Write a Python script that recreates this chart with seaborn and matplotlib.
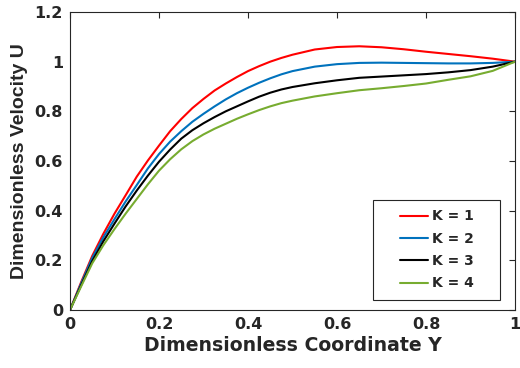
import numpy as np
import pandas as pd
import matplotlib
matplotlib.use("Agg")
import matplotlib.pyplot as plt
from matplotlib.patches import Rectangle
import seaborn as sns

Y = [0.0, 0.025, 0.05, 0.075, 0.1, 0.125, 0.15, 0.175, 0.2, 0.225, 0.25, 0.275,
     0.3, 0.325, 0.35, 0.375, 0.4, 0.425, 0.45, 0.475, 0.5, 0.55, 0.6, 0.65,
     0.7, 0.75, 0.8, 0.85, 0.9, 0.95, 1.0]
U_K1 = [0.0, 0.112, 0.218, 0.307, 0.388, 0.462, 0.537, 0.602, 0.662, 0.72, 0.769, 0.813,
        0.85, 0.884, 0.912, 0.938, 0.962, 0.982, 1.0, 1.015, 1.028, 1.049, 1.059, 1.062,
        1.058, 1.05, 1.04, 1.031, 1.022, 1.012, 1.0]
U_K2 = [0.0, 0.107, 0.21, 0.293, 0.366, 0.437, 0.503, 0.57, 0.628, 0.678, 0.72, 0.758,
        0.79, 0.82, 0.848, 0.873, 0.895, 0.915, 0.933, 0.949, 0.962, 0.98, 0.99, 0.995,
        0.996, 0.995, 0.994, 0.993, 0.993, 0.995, 1.0]
U_K3 = [0.0, 0.1, 0.197, 0.277, 0.348, 0.417, 0.481, 0.541, 0.597, 0.646, 0.69, 0.724,
        0.752, 0.777, 0.8, 0.82, 0.84, 0.859, 0.875, 0.888, 0.898, 0.913, 0.925, 0.935,
        0.94, 0.945, 0.95, 0.957, 0.966, 0.98, 1.0]
U_K4 = [0.0, 0.095, 0.188, 0.261, 0.326, 0.388, 0.447, 0.506, 0.561, 0.607, 0.647, 0.68,
        0.707, 0.73, 0.75, 0.77, 0.788, 0.805, 0.82, 0.833, 0.843, 0.86, 0.873, 0.885,
        0.893, 0.902, 0.912, 0.927, 0.941, 0.963, 1.0]
labels = ["K = 1", "K = 2", "K = 3", "K = 4"]
colors = ["#FF0000", "#0072BD", "#000000", "#77AC30"]

frames = []
for lab, u in zip(labels, [U_K1, U_K2, U_K3, U_K4]):
    frames.append(pd.DataFrame({"Y": Y, "U": u, "K": lab}))
df = pd.concat(frames, ignore_index=True)

sns.set_theme(style="white")
plt.rcParams["font.family"] = ["DejaVu Sans"]
plt.rcParams["font.weight"] = "bold"

DARK = "#262626"
fig = plt.figure(figsize=(5.2, 3.68), dpi=100)
ax = fig.add_axes([70 / 520, 58 / 368, 445 / 520, 298 / 368])
sns.lineplot(data=df, x="Y", y="U", hue="K", palette=colors, linewidth=1.5,
             ax=ax, sort=False)

ax.set_xlim(0, 1)
ax.set_ylim(0, 1.2)
ax.set_xticks([0, 0.2, 0.4, 0.6, 0.8, 1])
ax.set_xticklabels(["0", "0.2", "0.4", "0.6", "0.8", "1"])
ax.set_yticks([0, 0.2, 0.4, 0.6, 0.8, 1, 1.2])
ax.set_yticklabels(["0", "0.2", "0.4", "0.6", "0.8", "1", "1.2"])
ax.tick_params(direction="in", length=4, width=0.8, colors=DARK,
               labelsize=11.5, top=True, right=True, pad=5)
for t in ax.get_xticklabels() + ax.get_yticklabels():
    t.set_fontweight("bold")
    t.set_color(DARK)
for s in ax.spines.values():
    s.set_color(DARK)
    s.set_linewidth(0.8)
ax.set_xlabel("Dimensionless Coordinate Y", fontsize=13.6, fontweight="bold",
              color=DARK, labelpad=3)
ax.set_ylabel("Dimensionless Velocity U", fontsize=14, fontweight="bold",
              color=DARK, labelpad=5, family=["Liberation Sans", "DejaVu Sans"])

# legend box (MATLAB-style wide frame)
box = Rectangle((0.681, 0.034), 0.286, 0.335, transform=ax.transAxes,
                facecolor="white", edgecolor=DARK, linewidth=0.8, zorder=4)
ax.add_patch(box)
leg = ax.legend(loc="center", bbox_to_anchor=(0.824, 0.2015), fontsize=10,
                frameon=False, handlelength=2.0, handletextpad=0.3, borderpad=0,
                labelspacing=0.6, title=None)
leg.set_zorder(5)
for t in leg.get_texts():
    t.set_fontweight("bold")

fig.savefig("out.png", dpi=100)
